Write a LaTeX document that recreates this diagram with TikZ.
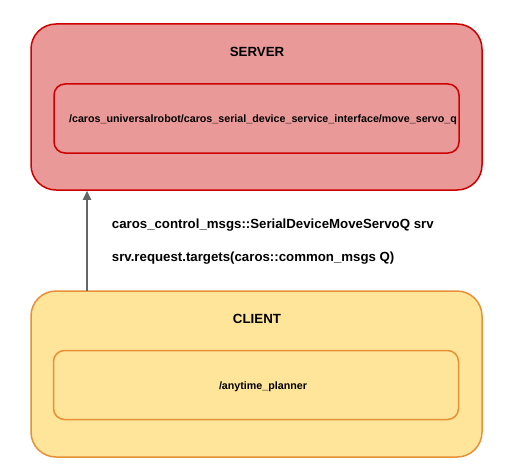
\documentclass[tikz,border=0pt]{standalone}
\usepackage{fontspec}
\setmainfont{Liberation Sans}
\usetikzlibrary{arrows.meta}
\definecolor{serverfill}{HTML}{EA9999}
\definecolor{serverline}{HTML}{CC0000}
\definecolor{clientfill}{HTML}{FFE599}
\definecolor{clientline}{HTML}{E69138}
\definecolor{flowgray}{HTML}{666666}
\begin{document}
\begin{tikzpicture}[x=1pt,y=-1pt,
    outerbox/.style={draw, line width=1.5pt, rounded corners=25pt,
      minimum width=451pt, minimum height=166pt},
    innerbox/.style={draw, line width=1.5pt, rounded corners=11pt,
      minimum width=405pt, minimum height=69pt},
    title/.style={font=\fontsize{13.3}{15}\selectfont\bfseries},
    nodename/.style={font=\fontsize{10.7}{13}\selectfont\bfseries},
    msg/.style={font=\fontsize{13.25}{15}\selectfont\bfseries, anchor=west, inner sep=0pt}]
    \useasboundingbox (0,0) rectangle (510,473);

    %Server
    \node[outerbox, fill=serverfill, draw=serverline] (server) at (256.5,107) {};
    \node[innerbox, draw=serverline] (serverInner) at (256.5,118.5) {};
    \node[title] (serverTitle) at (257,52) {SERVER};
    \node[nodename] (serverName) at (263,120)
      {/caros\_universalrobot/caros\_serial\_device\_service\_interface/move\_servo\_q};

    %Client
    \node[outerbox, fill=clientfill, draw=clientline] (client) at (256.5,374) {};
    \node[innerbox, draw=clientline] (clientInner) at (256,385) {};
    \node[title] (clientTitle) at (257,319) {CLIENT};
    \node[nodename] (clientName) at (263,387) {/anytime\_planner};

    %Service call
    \coordinate (callStart) at (87,291);
    \draw[flowgray, line width=2pt, -{Triangle[length=9pt,width=8pt]}]
      (callStart) -- (callStart |- server.south);
    \node[msg] (srvType) at (111.7,225) {caros\_control\_msgs::SerialDeviceMoveServoQ srv};
    \node[msg] (srvRequest) at (111.7,258) {srv.request.targets(caros::common\_msgs Q)};
  \end{tikzpicture}
\end{document}
